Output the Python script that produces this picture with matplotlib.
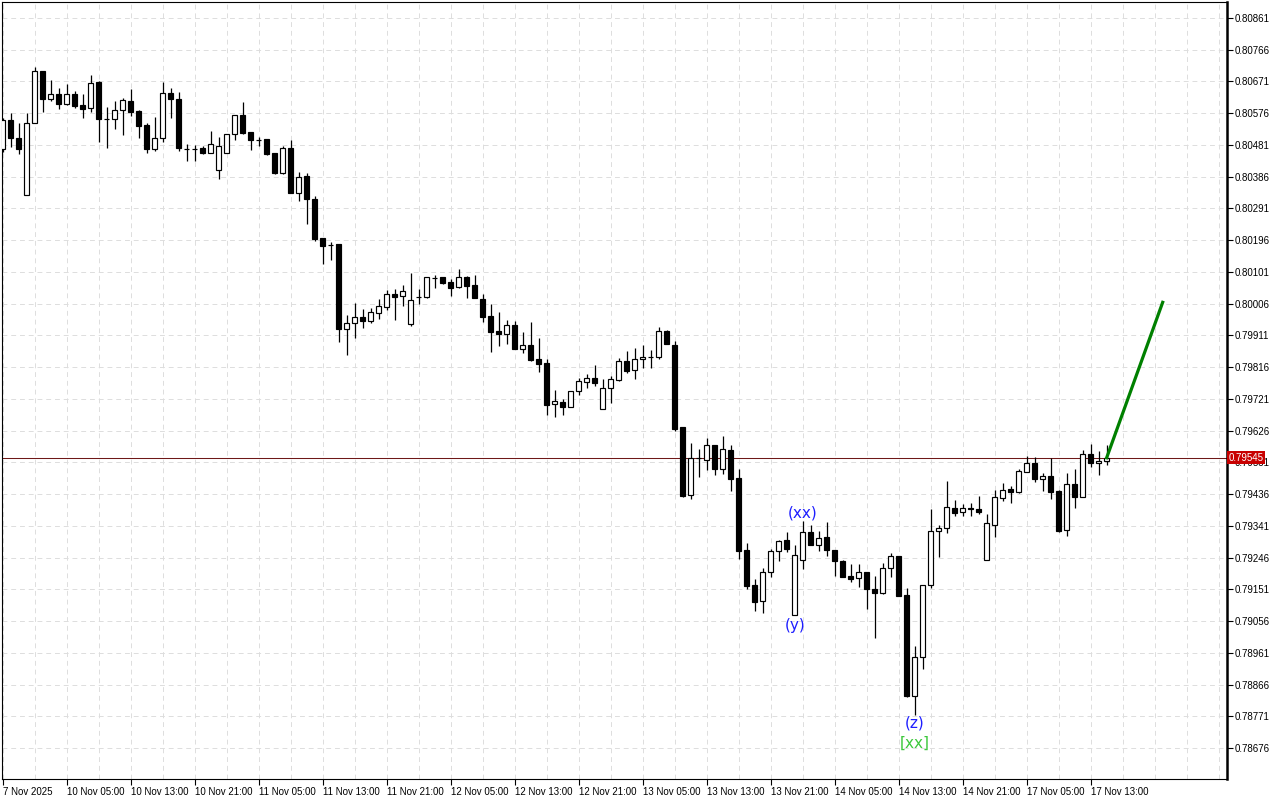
import numpy as np
import matplotlib
matplotlib.use('Agg')
import matplotlib.pyplot as plt

# H1 candles, prices in points (1e-5), bar 0 = 7 Nov 21:00 ... bar 138 = 17 Nov 15:00
opens_pts = [
    80469, 80556, 80501, 80331, 80546, 80702, 80618, 80633, 80603, 80633,
    80601, 80591, 80670, 80559, 80558, 80586, 80613, 80583, 80541, 80468,
    80501, 80636, 80619, 80470, 80469, 80471, 80456, 80405, 80456, 80513,
    80571, 80519, 80496, 80498, 80456, 80398, 80471, 80338, 80388, 80319,
    80202, 80181, 80185, 79930, 79949, 79965, 79955, 79979, 79997, 80035,
    80029, 79944, 80026, 80027, 80082, 80085, 80070, 80057, 80087, 80062,
    80019, 79969, 79924, 79916, 79942, 79871, 79882, 79840, 79827, 79707,
    79711, 79696, 79744, 79772, 79783, 79692, 79753, 79778, 79833, 79807,
    79839, 79845, 79845, 79924, 79882, 79637, 79432, 79544, 79539, 79582,
    79510, 79568, 79484, 79269, 79163, 79117, 79202, 79266, 79299, 79073,
    79238, 79322, 79283, 79307, 79268, 79237, 79191, 79184, 79203, 79152,
    79139, 79214, 79251, 79133, 78833, 78948, 79163, 79326, 79334, 79394,
    79382, 79393, 79391, 79238, 79343, 79423, 79450, 79443, 79503, 79528,
    79480, 79490, 79445, 79329, 79466, 79428, 79555, 79528, 79535]

highs_pts = [
    80562, 80576, 80546, 80576, 80713, 80702, 80675, 80651, 80663, 80642,
    80633, 80690, 80672, 80594, 80613, 80621, 80648, 80586, 80546, 80566,
    80670, 80652, 80640, 80483, 80481, 80478, 80523, 80504, 80513, 80571,
    80609, 80519, 80506, 80498, 80456, 80478, 80496, 80401, 80396, 80328,
    80202, 80191, 80185, 79972, 80009, 79990, 79992, 80019, 80047, 80049,
    80062, 80097, 80049, 80085, 80092, 80085, 80080, 80109, 80089, 80092,
    80034, 80004, 79980, 79957, 79954, 79921, 79951, 79903, 79840, 79748,
    79720, 79744, 79784, 79795, 79822, 79780, 79789, 79842, 79864, 79872,
    79882, 79867, 79937, 79927, 79894, 79637, 79589, 79571, 79605, 79582,
    79610, 79583, 79511, 79291, 79182, 79216, 79271, 79299, 79323, 79284,
    79355, 79344, 79326, 79352, 79268, 79239, 79227, 79226, 79203, 79191,
    79229, 79261, 79251, 79154, 78981, 79163, 79391, 79344, 79475, 79418,
    79406, 79408, 79429, 79376, 79447, 79470, 79460, 79511, 79550, 79548,
    79500, 79545, 79448, 79500, 79510, 79568, 79586, 79565, 79583]

lows_pts = [
    80460, 80476, 80453, 80331, 80546, 80581, 80613, 80589, 80601, 80591,
    80563, 80579, 80491, 80471, 80528, 80511, 80569, 80501, 80458, 80464,
    80491, 80561, 80464, 80433, 80434, 80453, 80456, 80380, 80456, 80496,
    80514, 80466, 80478, 80451, 80393, 80393, 80338, 80314, 80244, 80194,
    80125, 80137, 79892, 79852, 79902, 79934, 79947, 79960, 79987, 79957,
    80000, 79940, 80004, 80022, 80052, 80064, 80030, 80052, 80022, 80022,
    79952, 79862, 79880, 79886, 79871, 79859, 79835, 79802, 79673, 79668,
    79673, 79696, 79734, 79754, 79760, 79690, 79708, 79775, 79799, 79781,
    79813, 79814, 79839, 79884, 79626, 79428, 79422, 79486, 79508, 79492,
    79495, 79444, 79241, 79151, 79086, 79079, 79189, 79236, 79262, 79073,
    79211, 79283, 79267, 79252, 79192, 79187, 79174, 79159, 79091, 79006,
    79136, 79189, 79132, 78830, 78775, 78912, 79154, 79249, 79320, 79370,
    79370, 79370, 79376, 79238, 79309, 79416, 79408, 79438, 79503, 79473,
    79446, 79422, 79323, 79312, 79395, 79426, 79518, 79493, 79523]

closes_pts = [
    80556, 80501, 80468, 80546, 80702, 80618, 80633, 80603, 80633, 80598,
    80588, 80666, 80558, 80558, 80586, 80616, 80581, 80539, 80468, 80501,
    80636, 80618, 80471, 80469, 80470, 80456, 80483, 80478, 80513, 80571,
    80518, 80496, 80497, 80454, 80398, 80471, 80338, 80386, 80318, 80200,
    80179, 80182, 79930, 79949, 79965, 79955, 79980, 79999, 80035, 80027,
    80045, 80016, 80027, 80085, 80083, 80069, 80054, 80085, 80060, 80022,
    79967, 79922, 79916, 79942, 79871, 79881, 79837, 79826, 79704, 79714,
    79696, 79744, 79774, 79783, 79769, 79753, 79780, 79833, 79805, 79839,
    79845, 79846, 79923, 79884, 79630, 79430, 79544, 79545, 79582, 79510,
    79570, 79482, 79267, 79161, 79114, 79202, 79266, 79297, 79271, 79253,
    79322, 79283, 79306, 79268, 79235, 79189, 79183, 79202, 79151, 79139,
    79214, 79250, 79132, 78832, 78948, 79163, 79325, 79334, 79397, 79380,
    79394, 79392, 79382, 79349, 79426, 79447, 79443, 79504, 79528, 79480,
    79490, 79441, 79326, 79465, 79428, 79555, 79528, 79536, 79545]

time_ticks = list(range(0, 137, 8))
time_labels = ['7 Nov 2025', '10 Nov 05:00', '10 Nov 13:00', '10 Nov 21:00',
               '11 Nov 05:00', '11 Nov 13:00', '11 Nov 21:00', '12 Nov 05:00',
               '12 Nov 13:00', '12 Nov 21:00', '13 Nov 05:00', '13 Nov 13:00',
               '13 Nov 21:00', '14 Nov 05:00', '14 Nov 13:00', '14 Nov 21:00',
               '17 Nov 05:00', '17 Nov 13:00']

price_labels = ['0.78676', '0.78771', '0.78866', '0.78961', '0.79056', '0.79151',
                '0.79246', '0.79341', '0.79436', '0.79531', '0.79626', '0.79721',
                '0.79816', '0.79911', '0.80006', '0.80101', '0.80196', '0.80291',
                '0.80386', '0.80481', '0.80576', '0.80671', '0.80766', '0.80861']

last_price = 0.79545
proj_bars = [138, 145]
proj_prices = [0.79545, 0.80010]

wave_text = ['(y)', '(xx)', '(z)', '[xx]']
wave_bar = [99, 100, 114, 114]
wave_side = ['low', 'high', 'low', 'low']
wave_color = ['#1e1eff', '#1e1eff', '#1e1eff', '#3cc83c']
wave_offset = [-7.5, 6.0, -6.0, -20.5]   # points

o = np.array(opens_pts) / 1e5
h = np.array(highs_pts) / 1e5
l = np.array(lows_pts) / 1e5
c = np.array(closes_pts) / 1e5
x = np.arange(len(o))

fig = plt.figure(figsize=(12.8, 8), dpi=100)
ax = fig.add_axes([2.3 / 1280, 21 / 800, (1227 - 2.3) / 1280, (779 - 2.3) / 800])
ax.set_xlim(-0.05, 153.04)
ax.set_ylim(0.785833, 0.80908)

# grid
grid_kw = dict(color='#dddddd', lw=0.7, ls=(0, (5, 4)), zorder=0)
for k in range(0, 156, 4):
    ax.axvline(k, **grid_kw)
for p in price_labels:
    ax.axhline(float(p), **grid_kw)

# price line
ax.axhline(last_price, color='#6e1818', lw=0.75, zorder=1.5)

# candles
up = c >= o
ax.vlines(x, l, h, color='black', lw=0.9, zorder=2)
body_bottom = np.minimum(o, c)
body_h = np.maximum(np.abs(c - o), 0.000006)
ax.bar(x, body_h, bottom=body_bottom, width=0.56,
       color=np.where(up, 'white', 'black'), edgecolor='black',
       linewidth=0.85, zorder=3)

# projection
ax.plot(proj_bars, proj_prices, color='#008000', lw=2.3, zorder=5)

# wave labels
for txt, b, side, col, off in zip(wave_text, wave_bar, wave_side, wave_color, wave_offset):
    yv = h[b] if side == 'high' else l[b]
    ax.annotate(txt, (b, yv), xytext=(0, off), textcoords='offset points',
                ha='center', va='center', fontsize=11, color=col,
                family='DejaVu Sans', zorder=6)

# axes look
for s in ['left', 'top', 'bottom']:
    ax.spines[s].set_linewidth(0.8)
ax.spines['right'].set_linewidth(1.8)

ax.yaxis.tick_right()
ax.set_yticks([float(p) for p in price_labels])
ax.set_yticklabels(price_labels, fontsize=7, family='Liberation Sans')
ax.tick_params(axis='y', direction='out', length=4, width=0.8, pad=1.5)

ax.set_xticks(time_ticks)
ax.set_xticklabels(time_labels, fontsize=7, family='Liberation Sans')
for t in ax.get_xticklabels():
    t.set_ha('left')
ax.tick_params(axis='x', direction='out', length=4, width=0.8, pad=1.5)

ax.text(1.0012, last_price, '0.79545', transform=ax.get_yaxis_transform(),
        color='white', fontsize=7, family='Liberation Sans', va='center', ha='left',
        bbox=dict(boxstyle='square,pad=0.18', fc='#c80000', ec='none'),
        clip_on=False, zorder=10)

fig.savefig('out.png', dpi=100)
